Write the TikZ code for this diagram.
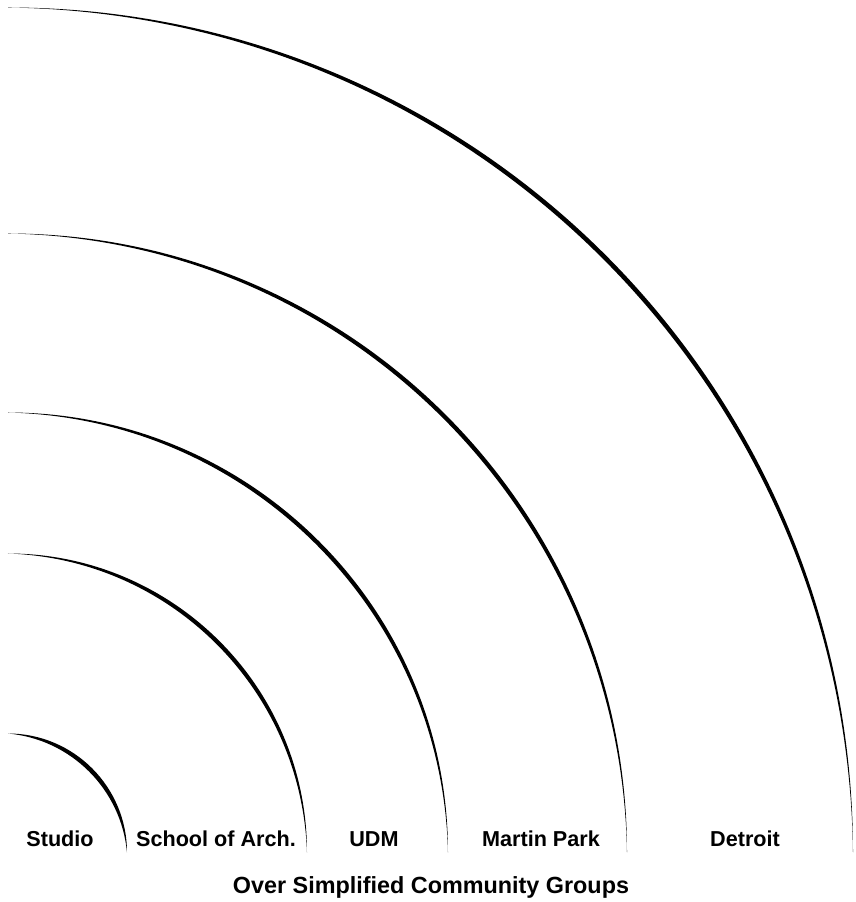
\documentclass[tikz,border=0pt]{standalone}
\usepackage{fontspec}
\setmainfont{Liberation Sans}
\usetikzlibrary{calc}

\begin{document}
\begin{tikzpicture}[font=\bfseries,
  lbl/.style={anchor=base,inner sep=0pt,font=\fontsize{12.3}{14}\selectfont\bfseries},
  ttl/.style={anchor=base,inner sep=0pt,font=\fontsize{13.3}{15}\selectfont\bfseries},
  band/.style={fill=black}]
\useasboundingbox (0,0) rectangle (17.12,18.04);
\coordinate (c) at (0.16,0.99);
% tapered quarter arcs: radius / offset of inner circle
\foreach \r/\a in {2.38/0.24,5.98/0.21,8.8/0.21,12.38/0.21,16.9/0.22}{
  \pgfmathsetmacro\R{sqrt(\a*\a+(\r+\a)*(\r+\a))}
  \pgfmathsetmacro\t{atan(\a/(\r+\a))}
  \fill[band] ($(c)+(0,\r)$) arc[start angle=90,end angle=0,radius=\r]
    arc[start angle=\t,end angle=90-\t,radius=\R] -- cycle;
}
\node[lbl] (studio) at (1.2,1.1) {Studio};
\node[lbl] (school) at (4.32,1.1) {School of Arch.};
\node[lbl] (udm) at (7.48,1.1) {UDM};
\node[lbl] (martin) at (10.82,1.1) {Martin Park};
\node[lbl] (detroit) at (14.9,1.1) {Detroit};
\node[ttl] (groups) at (8.62,0.18) {Over Simplified Community Groups};
\end{tikzpicture}
\end{document}
